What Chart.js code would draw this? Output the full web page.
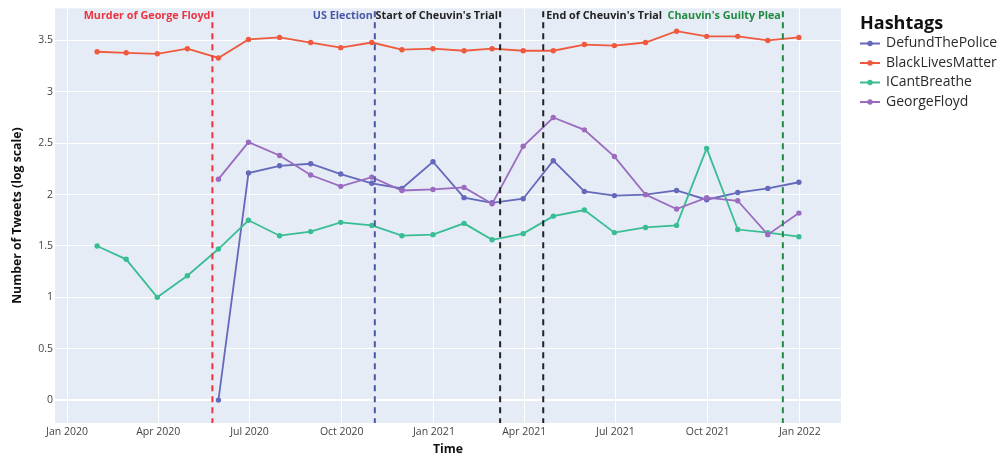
<!DOCTYPE html>
<html>
<head>
<meta charset="utf-8">
<title>Hashtags over time</title>
<script src="https://cdn.jsdelivr.net/npm/chart.js@4.4.1/dist/chart.umd.min.js"></script>
<style>
  body { margin: 0; background: #fff; }
  #wrap { width: 1007px; height: 457px; }
</style>
</head>
<body>
<div id="wrap"><canvas id="chart" width="1007" height="457"></canvas></div>
<script>
// monthly points, plotted at month end
const months = [
  '2020-01-31', '2020-02-29', '2020-03-31', '2020-04-30', '2020-05-31', '2020-06-30',
  '2020-07-31', '2020-08-31', '2020-09-30', '2020-10-31', '2020-11-30', '2020-12-31',
  '2021-01-31', '2021-02-28', '2021-03-31', '2021-04-30', '2021-05-31', '2021-06-30',
  '2021-07-31', '2021-08-31', '2021-09-30', '2021-10-31', '2021-11-30', '2021-12-31'
];

// log10 of tweet counts
const defundThePolice = [null, null, null, null, 0, 2.21, 2.28, 2.30, 2.20, 2.11, 2.06, 2.32,
  1.97, 1.92, 1.96, 2.33, 2.03, 1.99, 2.00, 2.04, 1.95, 2.02, 2.06, 2.12];
const blackLivesMatter = [3.39, 3.38, 3.37, 3.42, 3.33, 3.51, 3.53, 3.48, 3.43, 3.48, 3.41, 3.42,
  3.40, 3.42, 3.40, 3.40, 3.46, 3.45, 3.48, 3.59, 3.54, 3.54, 3.50, 3.53];
const iCantBreathe = [1.50, 1.37, 1.00, 1.21, 1.47, 1.75, 1.60, 1.64, 1.73, 1.70, 1.60, 1.61,
  1.72, 1.56, 1.62, 1.79, 1.85, 1.63, 1.68, 1.70, 2.45, 1.66, 1.63, 1.59];
const georgeFloyd = [null, null, null, null, 2.15, 2.51, 2.38, 2.19, 2.08, 2.17, 2.04, 2.05,
  2.07, 1.91, 2.47, 2.75, 2.63, 2.37, 2.00, 1.86, 1.97, 1.94, 1.61, 1.82];

const seriesNames = ['DefundThePolice', 'BlackLivesMatter', 'ICantBreathe', 'GeorgeFloyd'];

// events marked with dashed lines
const eventDates = ['2020-05-25', '2020-11-03', '2021-03-08', '2021-04-20', '2021-12-15'];
const eventLabels = ['Murder of George Floyd', 'US Election', "Start of Cheuvin's Trial",
  "End of Cheuvin's Trial", "Chauvin's Guilty Plea"];

const xTickDates = ['2020-01-01', '2020-04-01', '2020-07-01', '2020-10-01', '2021-01-01',
  '2021-04-01', '2021-07-01', '2021-10-01', '2022-01-01'];
const xTickLabels = ['Jan 2020', 'Apr 2020', 'Jul 2020', 'Oct 2020', 'Jan 2021',
  'Apr 2021', 'Jul 2021', 'Oct 2021', 'Jan 2022'];
const yTicks = [0, 0.5, 1, 1.5, 2, 2.5, 3, 3.5];
const yTickLabels = ['0', '0.5', '1', '1.5', '2', '2.5', '3', '3.5'];

const toTime = s => {
  const p = s.split('-').map(Number);
  return Date.UTC(p[0], p[1] - 1, p[2]);
};

const colors = ['#6569bb', '#ef5a3e', '#39bd93', '#9a6bbf'];
const eventColors = ['#ec3340', '#4a57a6', '#222222', '#222222', '#228a40'];
const eventSide = ['before', 'before', 'before', 'after', 'before'];
const FONT = '"Open Sans", sans-serif';

const plotBg = {
  id: 'plotBg',
  beforeDraw(chart) {
    const { ctx, chartArea: a } = chart;
    ctx.save();
    ctx.fillStyle = '#e5ecf6';
    ctx.fillRect(a.left, a.top, a.right - a.left, a.bottom - a.top);
    ctx.restore();
  }
};

const eventLines = {
  id: 'eventLines',
  afterDatasetsDraw(chart) {
    const { ctx, chartArea: a, scales } = chart;
    eventDates.forEach((d, i) => {
      const px = scales.x.getPixelForValue(toTime(d));
      ctx.save();
      ctx.strokeStyle = eventColors[i];
      ctx.lineWidth = 2;
      ctx.setLineDash([6, 5]);
      ctx.beginPath();
      ctx.moveTo(px, a.top + 3);
      ctx.lineTo(px, a.bottom);
      ctx.stroke();
      ctx.setLineDash([]);
      ctx.fillStyle = eventColors[i];
      ctx.font = 'bold 10.8px ' + FONT;
      ctx.textBaseline = 'middle';
      if (eventSide[i] === 'before') {
        ctx.textAlign = 'right';
        ctx.fillText(eventLabels[i], px - 2, 16);
      } else {
        ctx.textAlign = 'left';
        ctx.fillText(eventLabels[i], px + 3, 16);
      }
      ctx.restore();
    });
  }
};

// plotly-like legend on the right
const sideLegend = {
  id: 'sideLegend',
  afterDraw(chart) {
    const ctx = chart.ctx;
    ctx.save();
    ctx.textBaseline = 'middle';
    ctx.textAlign = 'left';
    ctx.fillStyle = '#111';
    ctx.font = 'bold 18px ' + FONT;
    ctx.fillText('Hashtags', 860, 24);
    ctx.font = '14px ' + FONT;
    chart.data.datasets.forEach((ds, i) => {
      const y = 43.5 + i * 19.5;
      ctx.strokeStyle = ds.borderColor;
      ctx.lineWidth = 2;
      ctx.beginPath();
      ctx.moveTo(860, y);
      ctx.lineTo(880, y);
      ctx.stroke();
      ctx.fillStyle = ds.borderColor;
      ctx.beginPath();
      ctx.arc(870, y, 2.7, 0, Math.PI * 2);
      ctx.fill();
      ctx.fillStyle = '#2a2a2a';
      ctx.fillText(ds.label, 886, y);
    });
    ctx.restore();
  }
};

const allSeries = [defundThePolice, blackLivesMatter, iCantBreathe, georgeFloyd];
const datasets = allSeries.map((vals, k) => ({
  label: seriesNames[k],
  data: months.map((m, i) => ({ x: toTime(m), y: vals[i] })),
  borderColor: colors[k],
  backgroundColor: colors[k],
  pointBackgroundColor: colors[k],
  borderWidth: 1.8,
  pointRadius: 2.7,
  pointBorderWidth: 0,
  tension: 0,
  spanGaps: false,
  order: 4 - k
}));

new Chart(document.getElementById('chart'), {
  type: 'line',
  data: { datasets: datasets },
  plugins: [plotBg, eventLines, sideLegend],
  options: {
    responsive: false,
    devicePixelRatio: 1,
    animation: false,
    layout: { padding: { top: 7, right: 166, left: 0, bottom: 0 } },
    plugins: { legend: { display: false }, tooltip: { enabled: false } },
    scales: {
      x: {
        type: 'linear',
        min: toTime('2019-12-20'),
        max: toTime('2022-02-11'),
        afterBuildTicks: s => { s.ticks = xTickDates.map(d => ({ value: toTime(d) })); },
        afterFit: s => { s.height = 34; },
        grid: { color: '#ffffff', lineWidth: 1, drawTicks: false },
        border: { display: false },
        ticks: {
          callback: (v, i) => xTickLabels[i],
          color: '#444', font: { family: FONT, size: 10.5 },
          padding: 3, maxRotation: 0, autoSkip: false
        },
        title: {
          display: true, text: 'Time', color: '#111',
          font: { family: FONT, size: 12.25, weight: 'bold' },
          padding: { top: 0, bottom: 0 }
        }
      },
      y: {
        type: 'linear',
        min: -0.223,
        max: 3.813,
        afterBuildTicks: s => { s.ticks = yTicks.map(v => ({ value: v })); },
        afterFit: s => { s.width = 55; },
        grid: {
          color: '#ffffff',
          lineWidth: c => (c.tick && c.tick.value === 0 ? 2 : 1),
          drawTicks: false
        },
        border: { display: false },
        ticks: {
          callback: (v, i) => yTickLabels[i],
          color: '#444', font: { family: FONT, size: 10.5 }, padding: 2
        },
        title: {
          display: true, text: 'Number of Tweets (log scale)', color: '#111',
          font: { family: FONT, size: 12.25, weight: 'bold' },
          padding: { top: 10.5, bottom: 0 }
        }
      }
    }
  }
});
</script>
</body>
</html>
